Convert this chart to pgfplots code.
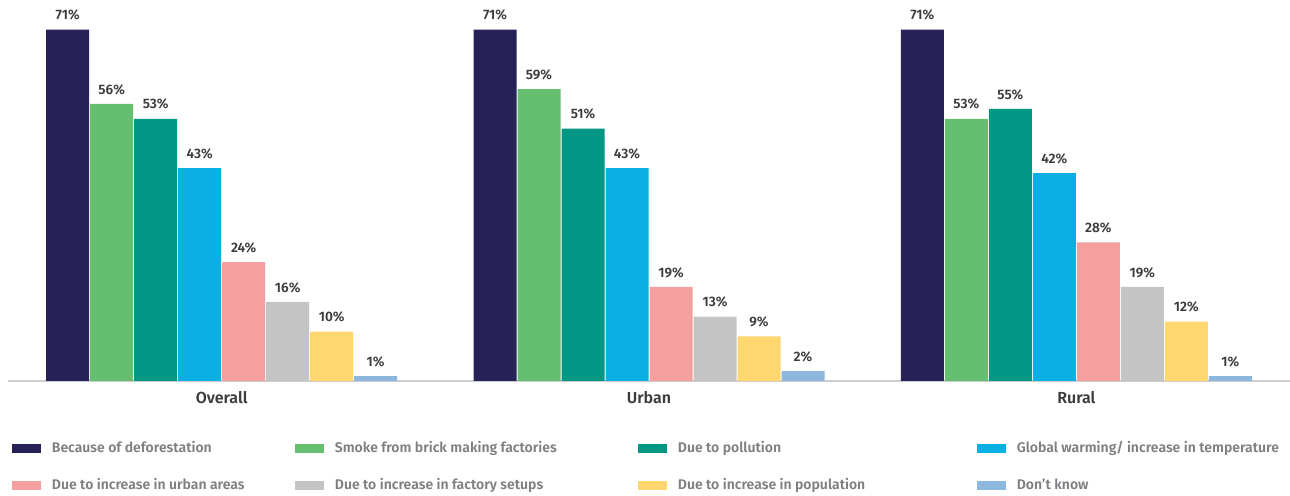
\documentclass[border=0pt]{standalone}
\usepackage{fontspec}
\setmainfont{Fira Sans}[BoldFont={Fira Sans SemiBold}]
\usepackage{pgfplots}
\pgfplotsset{compat=1.18}
\definecolor{cA}{RGB}{38,33,87}
\definecolor{cB}{RGB}{100,191,110}
\definecolor{cC}{RGB}{0,151,132}
\definecolor{cD}{RGB}{10,176,228}
\definecolor{cE}{RGB}{245,160,158}
\definecolor{cF}{RGB}{196,196,196}
\definecolor{cG}{RGB}{255,215,110}
\definecolor{cH}{RGB}{140,184,222}
\definecolor{axisgray}{RGB}{205,205,205}
\definecolor{labelgray}{RGB}{60,60,60}
\definecolor{legendgray}{RGB}{125,127,130}
\pgfplotsset{
  sw/.style={fill=#1, draw=none,
    legend image code/.code={\fill[fill=#1] (0pt,-3.375pt) rectangle (21.75pt,3.375pt);}},
}
\begin{document}
\begin{tikzpicture}
\useasboundingbox (0,0) rectangle (967.5pt,372pt);
\begin{axis}[
  at={(6pt,86.25pt)}, anchor=south west,
  width=961.5pt, height=285.75pt, scale only axis,
  xmin=-0.5, xmax=2.5, ymin=0, ymax=77,
  ybar=0.75pt, bar width=32.25pt,
  axis y line=none, ytick=\empty,
  axis x line*=bottom,
  x axis line style={draw=axisgray, line width=0.9pt},
  xtick={0,1,2}, xticklabels={Overall,Urban,Rural},
  major tick length=0pt,
  xticklabel style={font=\bfseries\fontsize{12}{14}\selectfont, text=labelgray, inner sep=0pt, anchor=north, yshift=-7.5pt},
  /pgf/number format/assume math mode=true,
  nodes near coords={\pgfmathprintnumber[fixed,precision=0]{\pgfplotspointmeta}\%},
  every node near coord/.append style={font=\bfseries\fontsize{10.25}{12}\selectfont, text=labelgray, inner sep=0pt, anchor=south, yshift=6.75pt},
  clip=false,
  legend columns=4,
  legend cell align=left,
  legend style={at={(0.0031,-0.1601)}, anchor=north west, draw=none, fill=none, inner sep=0pt,
    column sep=0pt, row sep=18.75pt,
    nodes={inner sep=0pt, text height=8pt, text depth=1pt, font=\bfseries\fontsize{10.5}{12}\selectfont, text=legendgray}},
]
\addplot[sw=cA] coordinates {(0,71) (1,71) (2,71)};
\addlegendentry{\hspace*{8pt}\makebox[182.5pt][l]{Because of deforestation}}
\addplot[sw=cB] coordinates {(0,56) (1,59) (2,53)};
\addlegendentry{\hspace*{8pt}\makebox[227.5pt][l]{Smoke from brick making factories}}
\addplot[sw=cC] coordinates {(0,53) (1,51) (2,55)};
\addlegendentry{\hspace*{8pt}\makebox[224.5pt][l]{Due to pollution}}
\addplot[sw=cD] coordinates {(0,43) (1,43) (2,42)};
\addlegendentry{\hspace*{8pt}Global warming/ increase in temperature}
\addplot[sw=cE] coordinates {(0,24) (1,19) (2,28)};
\addlegendentry{\hspace*{8pt}\makebox[182.5pt][l]{Due to increase in urban areas}}
\addplot[sw=cF] coordinates {(0,16) (1,13) (2,19)};
\addlegendentry{\hspace*{8pt}\makebox[227.5pt][l]{Due to increase in factory setups}}
\addplot[sw=cG] coordinates {(0,10) (1,9) (2,12)};
\addlegendentry{\hspace*{8pt}\makebox[224.5pt][l]{Due to increase in population}}
\addplot[sw=cH] coordinates {(0,1) (1,2) (2,1)};
\addlegendentry{\hspace*{8pt}Don’t know}
\end{axis}
\end{tikzpicture}
\end{document}
